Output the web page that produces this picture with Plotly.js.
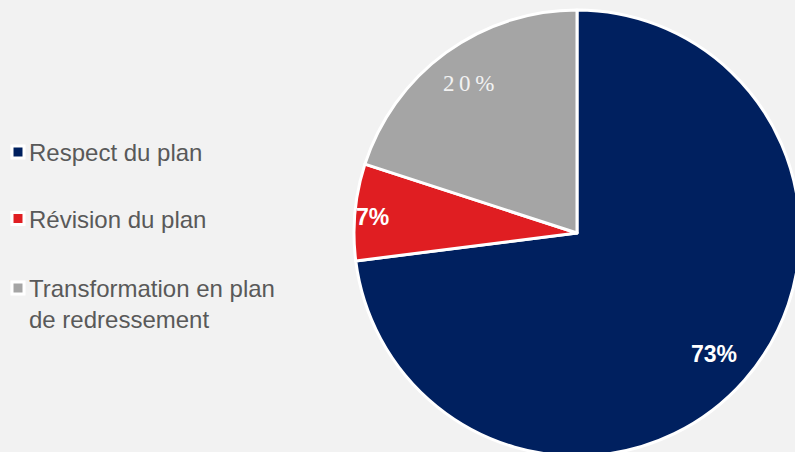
<!DOCTYPE html>
<html>
<head>
<meta charset="utf-8">
<script src="https://cdn.plot.ly/plotly-3.0.1.min.js"></script>
<style>
html,body{margin:0;padding:0;background:#F2F2F2;overflow:hidden;width:795px;height:452px;}
#chart{width:820px;height:470px;}
</style>
</head>
<body>
<div id="chart"></div>
<script>
// ---- data ----
var categories = ["Respect du plan", "Révision du plan", "Transformation en plan<br>de redressement"];
var legendLabels = ["Respect du plan<br>\u00a0", "Révision du plan<br>\u00a0", "Transformation en plan<br>de redressement"];
var values = [73, 7, 20];
var colors = ["#00205F", "#E01E22", "#A5A5A5"];

// ---- layout constants ----
var W = 820, H = 470;
var cx = 577, cy = 233, R = 223;
var labelRadius = [0.82, 0.92, 0.83];
var labelYShift = [0, -3, 0];

var total = values.reduce(function(a,b){return a+b;}, 0);
var annotations = [];
var cum = 0;
for (var i = 0; i < values.length; i++) {
  var a0 = cum / total * 2 * Math.PI;
  var a1 = (cum + values[i]) / total * 2 * Math.PI;
  cum += values[i];
  var mid = (a0 + a1) / 2;
  var px = cx + labelRadius[i] * R * Math.sin(mid);
  var py = cy - labelRadius[i] * R * Math.cos(mid);
  var isSerif = (i === 2);
  var txt = isSerif ? String(values[i]).split('').join('\u2009') + '\u2009%' : '<b>' + values[i] + '%</b>';
  annotations.push({
    x: px / W, y: 1 - py / H, xref: 'paper', yref: 'paper',
    xanchor: 'center', yanchor: 'middle', showarrow: false,
    yshift: labelYShift[i],
    text: txt,
    font: isSerif ? {family: 'Liberation Serif, Times New Roman, serif', size: 23, color: '#F2F2F2'}
                  : {family: 'Liberation Sans, Arial, sans-serif', size: 23, color: '#FFFFFF'}
  });
}

var trace = {
  type: 'pie',
  labels: legendLabels,
  values: values,
  sort: false,
  direction: 'clockwise',
  rotation: 0,
  textinfo: 'none',
  hoverinfo: 'label+percent',
  marker: {colors: colors, line: {color: '#FFFFFF', width: 3}},
  domain: {x: [(cx - R) / W, (cx + R) / W], y: [1 - (cy + R) / H, 1 - (cy - R) / H]}
};

var layout = {
  width: W, height: H,
  margin: {l: 0, r: 0, t: 0, b: 0, pad: 0, autoexpand: false},
  paper_bgcolor: '#F2F2F2',
  plot_bgcolor: '#F2F2F2',
  showlegend: true,
  legend: {
    x: -2 / W, y: 1 - 130 / H, xanchor: 'left', yanchor: 'top',
    valign: 'top',
    font: {family: 'Liberation Sans, Arial, sans-serif', size: 24, color: '#595959'},
    bgcolor: 'rgba(0,0,0,0)'
  },
  annotations: annotations
};

Plotly.newPlot('chart', [trace], layout, {displayModeBar: false, staticPlot: true}).then(function(gd){
  // tighten the gap between legend symbol and legend text
  var texts = gd.querySelectorAll('.legendtext');
  texts.forEach(function(t){
    var x0 = parseFloat(t.getAttribute('x')) || 40;
    var nx = x0 - 9;
    t.setAttribute('x', nx);
    t.querySelectorAll('tspan[x]').forEach(function(s){ s.setAttribute('x', nx); });
  });
  // extra spacing before the last legend entry, as in the reference
  var items = gd.querySelectorAll('.legend .traces');
  var extra = [0, 1, 5];
  items.forEach(function(g, k){
    var tr = g.getAttribute('transform') || '';
    var m = tr.match(/translate\(\s*([-\d.e]+)[ ,]+([-\d.e]+)\s*\)/);
    if (m && extra[k]) {
      g.setAttribute('transform', 'translate(' + m[1] + ',' + (parseFloat(m[2]) + extra[k]) + ')');
    }
  });
});
</script>
</body>
</html>
